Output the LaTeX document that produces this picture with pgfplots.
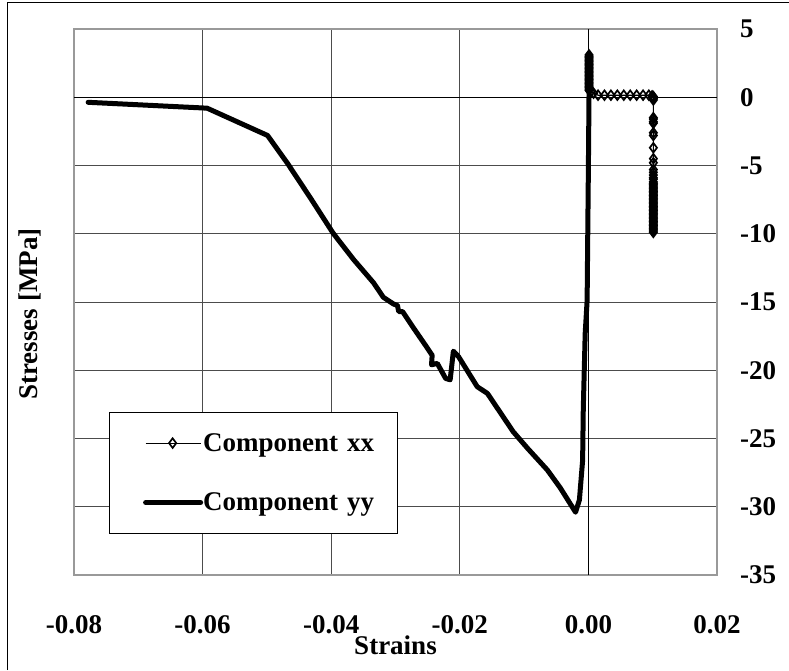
\documentclass[border=0pt]{standalone}
\usepackage{fontspec}
\setmainfont{Liberation Serif}
\usepackage{pgfplots}
\pgfplotsset{compat=1.18}

\newcommand{\lbl}{\fontsize{27}{30}\selectfont\bfseries}

\begin{document}
\begin{tikzpicture}
\useasboundingbox (0pt,0pt) rectangle (789pt,670pt);
\fill[white] (0pt,0pt) rectangle (789pt,670pt);
\draw[black, line width=1pt] (7pt,0pt) -- (7pt,667pt) -- (789pt,667pt);
\begin{axis}[
  at={(74pt,95pt)}, anchor=south west,
  scale only axis, width=643pt, height=546pt,
  xmin=-0.08, xmax=0.02, ymin=-35, ymax=5,
  xtick={-0.08,-0.06,-0.04,-0.02,0,0.02},
  xticklabels={-0.08,-0.06,-0.04,-0.02,0.00,0.02},
  ytick={-35,-30,-25,-20,-15,-10,-5,0,5},
  yticklabels={-35,-30,-25,-20,-15,-10,-5,0,5},
  yticklabel pos=right,
  major tick length=0pt,
  ticklabel style={font=\lbl, inner sep=0pt},
  xticklabel style={anchor=north, yshift=-40pt},
  yticklabel style={anchor=west, xshift=23pt},
  grid=major,
  major grid style={black!70, line width=0.8pt},
  axis line style={black!40, line width=1.5pt},
  xlabel={Strains}, ylabel={Stresses [MPa]},
  label style={font=\lbl, inner sep=0pt},
  x label style={at={(axis description cs:0.5,-0.128)}, anchor=center},
  y label style={at={(axis description cs:-0.068,0.478)}, anchor=center, rotate=0},
  legend style={at={(axis description cs:0.054,0.2985)}, anchor=north west,
    draw=black, line width=0.8pt, fill=white, font=\lbl,
    inner xsep=0pt, inner ysep=21pt, row sep=40pt,
    nodes={inner sep=0pt, text width=194pt}},
  legend cell align=left,
  /tikz/every even column/.append style={column sep=8pt},
  legend image code/.code={%
    \path (0pt,0pt);
    \draw[mark repeat=2, mark phase=2, #1] plot coordinates {(34pt,0pt) (61pt,0pt) (89pt,0pt)};},
]
\draw[black, line width=1.2pt] (axis cs:-0.08,0) -- (axis cs:0.02,0);
\draw[black, line width=1.2pt] (axis cs:0,-35) -- (axis cs:0,5);

\addplot[black, line width=1.1pt, mark=diamond, mark size=4.8pt,
  mark options={fill=white, line width=1.7pt}]
  coordinates{
  (0.0001,3.1)(0.0001,3.0)(0.0001,2.9)(0.0001,2.8)(0.0001,2.7)(0.0001,2.6)
  (0.0001,2.5)(0.0001,2.4)(0.0001,2.3)(0.0001,2.2)(0.0001,2.1)(0.0001,2.0)
  (0.0001,1.9)(0.0001,1.8)(0.0001,1.7)(0.0001,1.6)(0.0001,1.5)(0.0001,1.4)
  (0.0001,1.3)(0.0001,1.2)(0.0001,1.1)(0.0001,1.0)(0.0001,0.9)(0.0001,0.8)
  (0.0001,0.7)(0.0001,0.6)(0.0001,0.5)(0.0004,0.4)(0.0008,0.3)
  (0.0015,0.15)(0.0025,0.15)(0.0035,0.15)(0.0045,0.15)(0.0055,0.15)
  (0.0065,0.15)(0.0075,0.15)(0.0085,0.15)(0.0094,0.15)
  (0.0099,0.1)(0.0101,0.05)(0.0101,0.0)(0.0101,-0.05)(0.0101,-0.1)(0.0101,-0.2)
  (0.0101,-1.5)(0.0101,-1.6)(0.0101,-1.8)(0.0101,-1.9)(0.0101,-2.6)(0.0101,-2.8)
  (0.0101,-3.7)(0.0101,-4.5)(0.0101,-4.8)(0.0101,-5.3)(0.0101,-5.5)(0.0101,-5.7)
  (0.0101,-5.9)(0.0101,-6.0)(0.0101,-6.2)(0.0101,-6.3)(0.0101,-6.4)(0.0101,-6.5)
  (0.0101,-6.6)(0.0101,-6.7)(0.0101,-6.8)(0.0101,-6.9)(0.0101,-7.0)(0.0101,-7.1)
  (0.0101,-7.2)(0.0101,-7.3)(0.0101,-7.4)(0.0101,-7.5)(0.0101,-7.6)(0.0101,-7.7)
  (0.0101,-7.8)(0.0101,-7.9)(0.0101,-8.0)(0.0101,-8.1)(0.0101,-8.2)(0.0101,-8.3)
  (0.0101,-8.4)(0.0101,-8.5)(0.0101,-8.6)(0.0101,-8.7)(0.0101,-8.8)(0.0101,-8.9)
  (0.0101,-9.0)(0.0101,-9.1)(0.0101,-9.2)(0.0101,-9.3)(0.0101,-9.4)(0.0101,-9.5)
  (0.0101,-9.6)(0.0101,-9.7)(0.0101,-9.8)(0.0101,-9.9)};
\addlegendentry{Component xx}

\addplot[black, line width=5pt, line join=round, line cap=round, mark=none]
  coordinates{
  (-0.0778,-0.37)(-0.0593,-0.80)(-0.0499,-2.80)(-0.0468,-4.84)
  (-0.0432,-7.40)(-0.0397,-9.96)(-0.0365,-11.9)(-0.0334,-13.6)
  (-0.0319,-14.65)(-0.0303,-15.15)(-0.0297,-15.25)(-0.0295,-15.7)
  (-0.0289,-15.7)(-0.0272,-16.9)(-0.0253,-18.2)(-0.0243,-18.9)
  (-0.0244,-19.6)(-0.0235,-19.5)(-0.0222,-20.6)(-0.0215,-20.7)
  (-0.0210,-18.6)(-0.0202,-19.0)(-0.0173,-21.2)(-0.0157,-21.7)
  (-0.0117,-24.5)(-0.0095,-25.7)(-0.0064,-27.3)(-0.0044,-28.6)
  (-0.0020,-30.4)(-0.0014,-29.5)(-0.0009,-26.6)(-0.0008,-22.9)
  (-0.0005,-17.3)(-0.0002,-14.9)(0.0000,-5.0)(0.0001,0.5)};
\addlegendentry{Component yy}
\end{axis}
\end{tikzpicture}
\end{document}
